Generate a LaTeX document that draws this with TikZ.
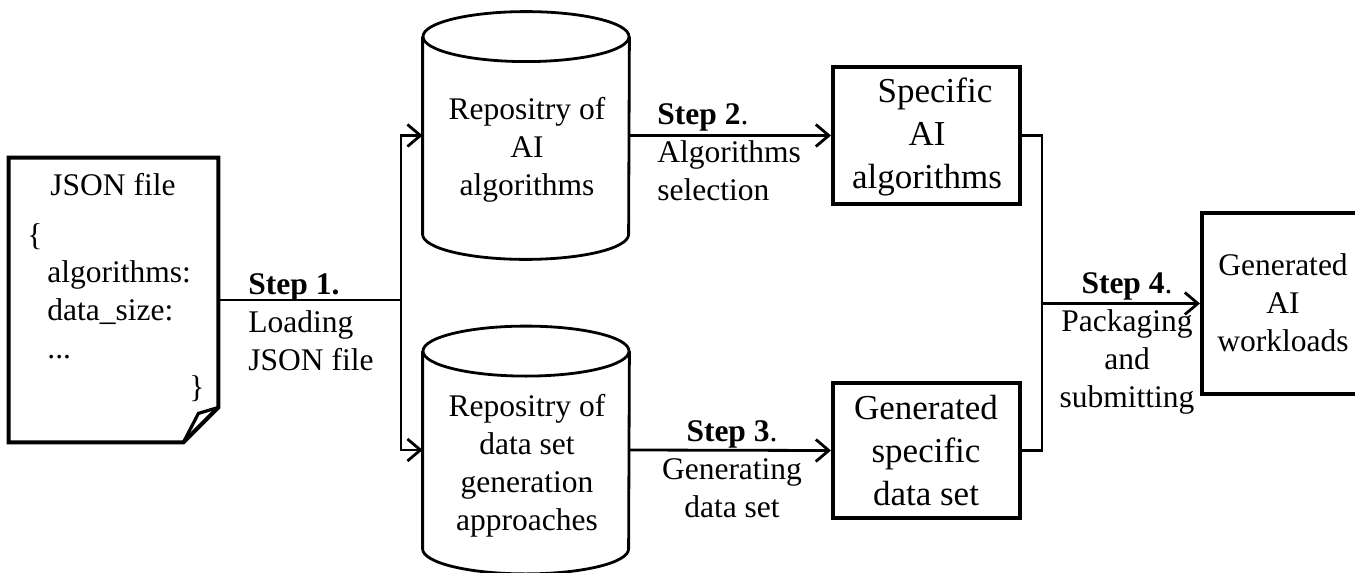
\documentclass[tikz,border=0pt]{standalone}
\usepackage{fontspec}
\setmainfont{Liberation Serif}
\usetikzlibrary{arrows.meta, positioning, calc}
\tikzset{
    txt/.style={font=\fontsize{15.75}{19}\selectfont, inner sep=0pt},
    bigtxt/.style={font=\fontsize{17.5}{21.5}\selectfont, inner sep=0pt, align=center},
    box/.style={draw, line width=2pt, inner sep=0pt},
    cylbody/.style={inner sep=0pt, minimum width=103pt, minimum height=123.5pt},
    cylline/.style={line width=1.4pt},
    conn/.style={line width=1.4pt},
}
% cylinder outline around an empty node
\newcommand{\repocyl}[1]{%
    \draw[cylline] ([yshift=-12.5pt]#1.north west) -- ([yshift=12.5pt]#1.south west)
        arc[start angle=180, end angle=360, x radius=51.5pt, y radius=12.5pt]
        -- ([yshift=-12.5pt]#1.north east);
    \draw[cylline] ([yshift=-12.5pt]#1.north) ellipse[x radius=51.5pt, y radius=12.5pt];
}
\begin{document}
\begin{tikzpicture}[x=0.5pt, y=-0.5pt, >={Straight Barb[length=6.5pt, width=11pt]}]
    \useasboundingbox (0,0) rectangle (1355,573);

    % JSON file
    \node[inner sep=0pt, minimum width=104.5pt, minimum height=142pt] (json) at (113.5,300) {};
    \draw[line width=2pt, line join=miter] (json.north west) -- (json.north east)
        -- ([yshift=17.5pt]json.south east) -- ([xshift=-17.5pt]json.south east)
        -- (json.south west) -- cycle;
    \draw[line width=1.6pt] ([yshift=17.5pt]json.south east) -- ([xshift=-10pt, yshift=14.5pt]json.south east)
        -- ([xshift=-17.5pt]json.south east);
    \node[txt, anchor=base] (jsontitle) at (113,195) {JSON file};
    \node[txt, anchor=base west] (jsonopen) at (27,245) {\{};
    \node[txt, anchor=base west, align=left] (jsonkeys) at (47,358) {algorithms:\\data\_size:\\...};
    \node[txt, anchor=base west] (jsonclose) at (189,397) {\}};

    % repositories
    \node[cylbody] (repoalg) at (526,135.5) {};
    \repocyl{repoalg}
    \node[txt, align=center, anchor=base] (repoalgtxt) at (527,195) {Repositry of\\AI\\algorithms};
    \node[cylbody] (repodata) at (526,450) {};
    \repocyl{repodata}
    \node[txt, align=center, anchor=base] (repodatatxt) at (527,530) {Repositry of\\data set\\generation\\approaches};

    % results
    \node[box, minimum width=93.5pt, minimum height=68.5pt] (specalg) at (926.5,135.5) {};
    \node[bigtxt, anchor=base] (specalgtxt) at (927,188) {\hspace*{8pt}Specific\\AI\\algorithms};
    \node[box, minimum width=93.5pt, minimum height=67.5pt] (gendata) at (926.5,450.5) {};
    \node[bigtxt, anchor=base] (gendatatxt) at (926,505) {Generated\\specific\\data set};
    \node[box, minimum width=81pt, minimum height=90.5pt] (workload) at (1283,303.5) {};
    \node[txt, align=center, anchor=base] (workloadtxt) at (1283,351) {Generated\\AI\\workloads};

    % connectors
    \coordinate (split) at (401,300);
    \coordinate (merge) at (1042,303.5);
    \draw[conn] (json.east) -- (split);
    \draw[conn, ->] (split) |- (repoalg.west);
    \draw[conn, ->] (split) |- (repodata.west);
    \draw[conn, ->] (repoalg.east) -- (specalg.west);
    \draw[conn, ->] (repodata.east) -- (gendata.west);
    \draw[conn] (specalg.east) -| (merge);
    \draw[conn] (gendata.east) -| (merge);
    \draw[conn, ->] (merge) -- (workload.west);

    % step labels
    \node[txt, align=left, anchor=base west] (step1) at (248,370) {\textbf{Step 1.}\\Loading\\JSON file};
    \node[txt, align=left, anchor=base west] (step2) at (657,200) {\textbf{Step 2}.\\Algorithms\\selection};
    \node[txt, align=center, anchor=base] (step3) at (732,517) {\textbf{Step 3}.\\Generating\\data set};
    \node[txt, align=center, anchor=base] (step4) at (1127,407) {\textbf{Step 4}.\\Packaging\\and\\submitting};
\end{tikzpicture}
\end{document}
